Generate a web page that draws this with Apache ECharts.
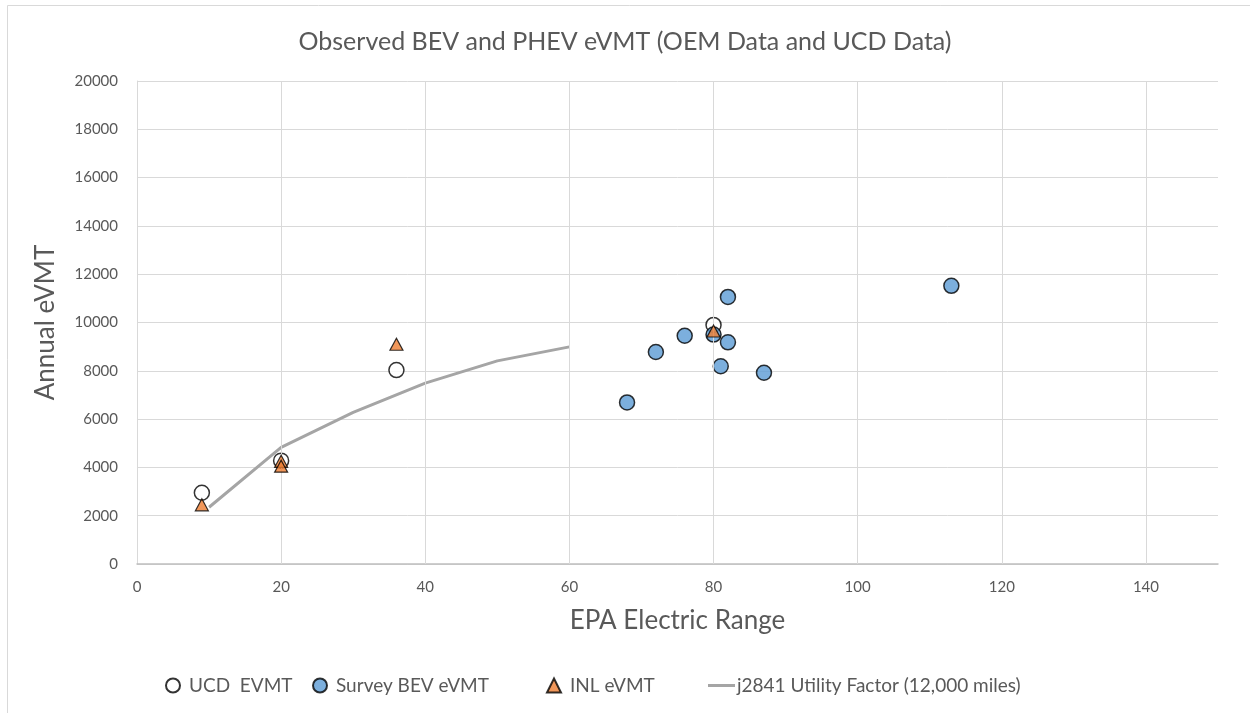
<!DOCTYPE html>
<html><head><meta charset="utf-8">
<script src="https://cdn.jsdelivr.net/npm/echarts@6/dist/echarts.min.js"></script>
<style>html,body{margin:0;padding:0;background:#fff}#c{width:1250px;height:713px}</style>
</head><body><div id="c"></div>
<script>
var xTicks = [0, 20, 40, 60, 80, 100, 120, 140];
var ucdX = [9, 20, 36, 80];
var ucdY = [2950, 4280, 8030, 9900];
var surveyX = [68, 72, 76, 80, 81, 82, 82, 87, 113];
var surveyY = [6690, 8780, 9450, 9500, 8190, 9180, 11060, 7920, 11520];
var inlX = [9, 20, 20, 36, 80];
var inlY = [2450, 4250, 4050, 9100, 9650];
var ufX = [10, 20, 30, 40, 50, 60];
var ufY = [2350, 4830, 6280, 7490, 8410, 8990];

function pairs(xs, ys) { return xs.map(function (x, i) { return [x, ys[i]]; }); }

var FONT = 'Lato';
var TXT = '#595959';
var chart = echarts.init(document.getElementById('c'), null, { renderer: 'canvas' });
function leg(name, left, icon, w, h, pad) {
  return { data: [{ name: name, icon: icon }], left: left, top: 676, itemWidth: w, itemHeight: h, itemGap: 0,
    padding: 0,
    textStyle: { color: TXT, fontSize: 19, fontFamily: FONT, padding: [0, 0, 0, pad] }, selectedMode: false };
}
chart.setOption({
  animation: false,
  backgroundColor: '#fff',
  graphic: [{ type: 'rect', shape: { x: 7.5, y: 5.5, width: 1400, height: 900 }, style: { fill: 'none', stroke: '#d9d9d9', lineWidth: 1 }, silent: true }],
  title: { text: 'Observed BEV and PHEV eVMT (OEM Data and UCD Data)', left: 'center', top: 24,
    textStyle: { color: TXT, fontSize: 25, fontWeight: 'normal', fontFamily: FONT } },
  legend: [
    leg('UCD  EVMT', 165, 'circle', 14, 14, 4),
    leg('Survey BEV eVMT', 312, 'circle', 14, 14, 4),
    leg('INL eVMT', 546, 'triangle', 14, 14, 4),
    leg('j2841 Utility Factor (12,000 miles)', 708, 'rect', 27, 3, -3)
  ],
  grid: { left: 137, right: 32, top: 81, bottom: 149, containLabel: false },
  xAxis: { type: 'value', min: 0, max: 150, interval: 20,
    name: 'EPA Electric Range', nameLocation: 'middle', nameGap: 44,
    nameTextStyle: { color: TXT, fontSize: 26, fontFamily: FONT },
    axisLine: { show: true, lineStyle: { color: '#bfbfbf', width: 1.5 } }, axisTick: { show: false },
    axisLabel: { color: TXT, fontSize: 15, fontFamily: FONT, margin: 16, showMaxLabel: false },
    splitLine: { show: false } },
  yAxis: { type: 'value', min: 0, max: 20000, interval: 2000,
    name: 'Annual eVMT', nameLocation: 'middle', nameGap: 78,
    nameTextStyle: { color: TXT, fontSize: 26, fontFamily: FONT },
    axisLine: { show: true, lineStyle: { color: '#d9d9d9', width: 1 } }, axisTick: { show: false },
    axisLabel: { color: TXT, fontSize: 15, fontFamily: FONT, margin: 19, formatter: function (v) { return String(v); } },
    splitLine: { show: true, lineStyle: { color: '#d9d9d9', width: 1 } } },
  series: [
    { name: 'j2841 Utility Factor (12,000 miles)', type: 'line', data: pairs(ufX, ufY), symbol: 'none',
      itemStyle: { color: '#a5a5a5' }, lineStyle: { color: '#a5a5a5', width: 3 }, z: 1,
      markLine: { silent: true, symbol: 'none', label: { show: false },
        lineStyle: { color: '#d9d9d9', width: 1, type: 'solid' },
        data: xTicks.slice(1).map(function (t) { return { xAxis: t }; }) } },
    { name: 'UCD  EVMT', type: 'scatter', data: pairs(ucdX, ucdY), symbol: 'circle', symbolSize: 15,
      itemStyle: { color: '#ffffff', borderColor: '#000', borderWidth: 1.5 }, z: 3 },
    { name: 'Survey BEV eVMT', type: 'scatter', data: pairs(surveyX, surveyY), symbol: 'circle', symbolSize: 15,
      itemStyle: { color: '#5b9bd5', borderColor: '#000', borderWidth: 1.5 }, z: 4 },
    { name: 'INL eVMT', type: 'scatter', data: pairs(inlX, inlY), symbol: 'triangle', symbolSize: [13, 12],
      itemStyle: { color: '#ed7d31', borderColor: '#000', borderWidth: 1.2 }, z: 5 }
  ]
});
</script></body></html>
